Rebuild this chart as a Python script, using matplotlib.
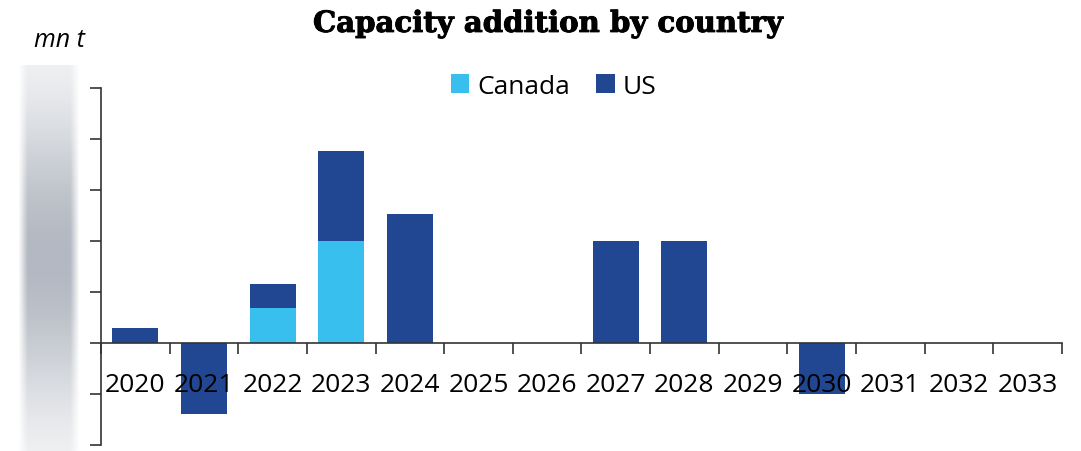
import numpy as np
import matplotlib.pyplot as plt
import matplotlib.patheffects as pe
from matplotlib.colors import LinearSegmentedColormap

# capacity additions, mn t
years = ['2020', '2021', '2022', '2023', '2024', '2025', '2026',
         '2027', '2028', '2029', '2030', '2031', '2032', '2033']
canada = [0, 0, 0.68, 2.0, 0, 0, 0, 0, 0, 0, 0, 0, 0, 0]
us = [0.3, -1.4, 0.48, 1.76, 2.53, 0, 0, 2.0, 2.0, 0, -1.0, 0, 0, 0]

canada_col = '#38BFEE'
us_col = '#214793'

fig = plt.figure(figsize=(10.81, 4.52), dpi=100)
ax = fig.add_axes([0.0934, 0.0133, 0.889, 0.790])

x = np.arange(len(years))
can = np.array(canada)
usa = np.array(us)
# US stacks on top of Canada where positive
base = np.where(usa >= 0, can, 0)
ax.bar(x, can, width=0.67, color=canada_col, label='Canada', zorder=1)
ax.bar(x, usa, width=0.67, bottom=base, color=us_col, label='US', zorder=1)

ax.set_xlim(-0.5, len(years) - 0.5)
ax.set_ylim(-2, 5)
ax.set_yticks(np.arange(-2, 6, 1))
ax.set_yticklabels([])

ax.spines['top'].set_visible(False)
ax.spines['right'].set_visible(False)
ax.spines['bottom'].set_position(('data', 0))
for s in ['left', 'bottom']:
    ax.spines[s].set_color('#333333')
    ax.spines[s].set_linewidth(1.2)

ax.set_xticks(np.arange(-0.5, len(years), 1))
ax.set_xticklabels([])
ax.set_xticks(x, minor=True)
ax.set_xticklabels(years, minor=True, fontsize=19, family='Open Sans')
ax.tick_params(axis='x', which='major', length=8, width=1.2, color='#333333', direction='out')
ax.tick_params(axis='x', which='minor', length=0, pad=21)
ax.tick_params(axis='y', length=8, width=1.2, color='#333333', direction='out')

leg = fig.legend(loc='center', bbox_to_anchor=(0.512, 0.807), ncol=2, frameon=False,
                 prop={'family': 'Open Sans', 'size': 19}, handlelength=0.7, handleheight=0.7,
                 handletextpad=0.3, columnspacing=1.0)

title = fig.text(0.507, 0.946, 'Capacity addition by country', ha='center', va='center',
                 fontsize=21, fontweight='bold', family='DejaVu Serif')
title.set_path_effects([pe.withStroke(linewidth=0.7, foreground='black')])
fig.text(0.055, 0.91, 'mn t', ha='center', va='center', fontsize=18,
         style='italic', family='Open Sans')

# soft gray band behind the y labels
ny, nx = 200, 60
yy = np.linspace(0, 1, ny)[:, None]
xx = np.linspace(0, 1, nx)[None, :]
vert = np.exp(-((yy - 0.5) / 0.38) ** 2)
horiz = np.clip(np.minimum(xx, 1 - xx) / 0.15, 0, 1)
band = vert * horiz
cmap = LinearSegmentedColormap.from_list('band', ['#ffffff', '#b3b9c2'])
bax = fig.add_axes([18 / 1081, 0, 62 / 1081, 386 / 452])
bax.imshow(band * 0.95 + horiz * 0.05, cmap=cmap, vmin=0, vmax=1, aspect='auto',
           interpolation='bilinear')
bax.axis('off')

fig.savefig('out.png', dpi=100)
